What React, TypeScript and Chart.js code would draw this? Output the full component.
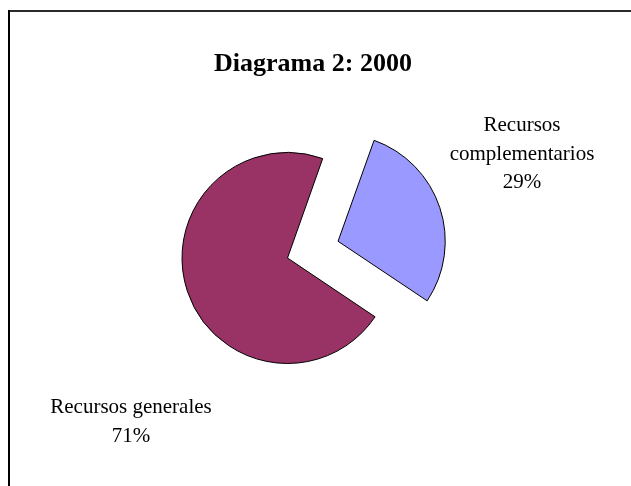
import React, { useEffect, useRef } from "react";
import { Chart, registerables } from "chart.js";

Chart.register(...registerables);

const categories = ["Recursos complementarios", "Recursos generales"];
const values = [29, 71];
const colors = ["#9999FF", "#993366"];
const titleText = "Diagrama 2: 2000";
const labelLines = [
  ["Recursos", "complementarios", "29%"],
  ["Recursos generales", "71%"],
];

export default function App() {
  const ref = useRef<HTMLCanvasElement | null>(null);

  useEffect(() => {
    document.body.style.margin = "0";
    const canvas = ref.current;
    if (!canvas) return;

    const overlay = {
      id: "overlay",
      beforeDraw(chart: any) {
        const ctx = chart.ctx;
        ctx.save();
        ctx.fillStyle = "#ffffff";
        ctx.fillRect(0, 0, chart.width, chart.height);
        ctx.fillStyle = "#2a2a2a";
        ctx.fillRect(8, 10, chart.width - 8, 2);
        ctx.fillStyle = "#000000";
        ctx.fillRect(8, 10, 2, chart.height - 10);
        ctx.restore();
      },
      afterDraw(chart: any) {
        const ctx = chart.ctx;
        ctx.save();
        ctx.fillStyle = "#000000";
        ctx.textAlign = "center";
        ctx.textBaseline = "alphabetic";
        ctx.font = "bold 26px 'Liberation Serif', 'Times New Roman', serif";
        ctx.fillText(titleText, 313, 71);
        ctx.font = "21px 'Liberation Serif', 'Times New Roman', serif";
        const right = labelLines[0];
        right.forEach((t, i) => ctx.fillText(t, 522, 131 + i * 28.5));
        const left = labelLines[1];
        left.forEach((t, i) => ctx.fillText(t, 131, 413 + i * 28.5));
        ctx.restore();
      },
    };

    const chart = new Chart(canvas, {
      type: "pie",
      data: {
        labels: categories,
        datasets: [
          {
            data: values,
            backgroundColor: colors,
            borderColor: "#000000",
            borderWidth: 1,
            offset: [213, 0],
          },
        ],
      },
      options: {
        responsive: false,
        animation: false,
        devicePixelRatio: 1,
        events: [],
        rotation: 19.5,
        radius: 105.5,
        layout: { padding: { left: 0, right: 56, top: 30, bottom: 0 } },
        plugins: {
          legend: { display: false },
          tooltip: { enabled: false },
          title: { display: false },
        },
      } as any,
      plugins: [overlay],
    });

    return () => chart.destroy();
  }, []);

  return (
    <div style={{ position: "fixed", left: 0, top: 0, width: 631, height: 486, overflow: "hidden", background: "#fff" }}>
      <canvas ref={ref} width={631} height={486} style={{ display: "block" }} />
    </div>
  );
}
